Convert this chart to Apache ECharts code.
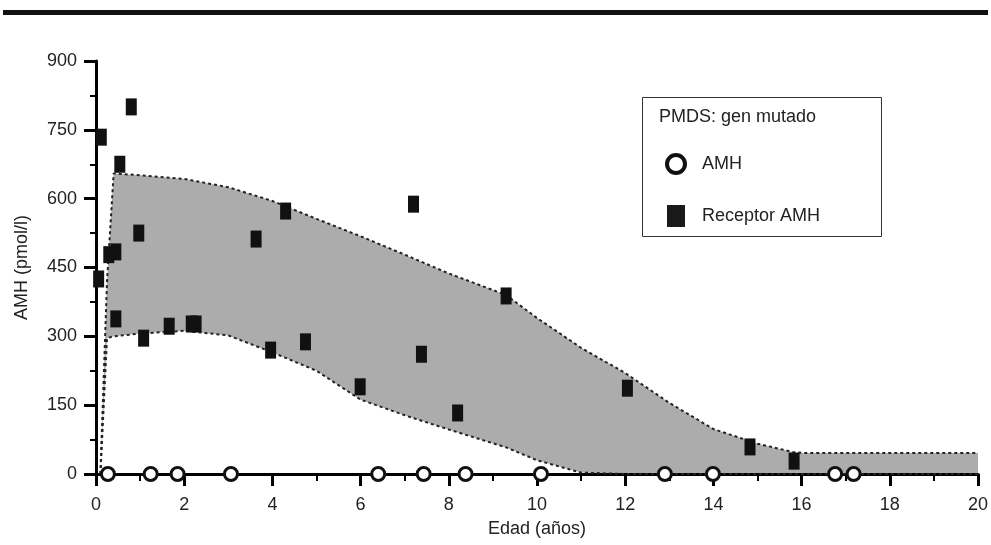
<!DOCTYPE html>
<html lang="es">
<head>
    <meta charset="UTF-8">
    <title>AMH - PMDS</title>
    <script type="text/javascript" src="https://cdn.jsdelivr.net/npm/echarts/dist/echarts.min.js"></script>
    <style>
        body { margin: 0; background: #fff; }
    </style>
</head>
<body>
<div id="main" style="width: 991px; height: 545px"></div>

<script type="text/javascript">
    // receptor AMH (black rectangles)
    var receptorX = [0.12, 0.54, 0.8, 0.29, 0.45, 0.97, 0.06, 0.45, 1.08, 1.66, 2.16, 2.27, 3.63, 3.96, 4.3, 4.75, 5.99, 7.2, 7.38, 8.2, 9.3, 12.05, 14.83, 15.83];
    var receptorY = [734, 675, 800, 478, 484, 525, 425, 338, 296, 322, 327, 327, 512, 270, 573, 288, 190, 588, 261, 133, 388, 187, 59, 28];

    // AMH (open circles, all at 0)
    var amhX = [0.27, 1.24, 1.85, 3.06, 6.4, 7.43, 8.38, 10.09, 12.9, 13.99, 16.76, 17.18];
    var amhY = [0, 0, 0, 0, 0, 0, 0, 0, 0, 0, 0, 0];

    // normal range band (grey)
    var bandX     = [0.1, 0.25, 0.4, 1, 2, 3, 4, 5, 6, 7, 8, 9.3, 10, 11, 12, 13, 14, 15, 15.8, 16, 20];
    var bandUpper = [0, 420, 655, 651, 643, 625, 595, 556, 518, 478, 437, 390, 340, 275, 220, 155, 98, 66, 48, 46, 46];
    var bandLower = [0, 296, 300, 306, 312, 302, 265, 225, 162, 128, 97, 58, 30, 3, 0, 0, 0, 0, 0, 0, 0];

    var xTicks = [0, 20, 2];
    var yTicks = [0, 900, 150];

    var myChart = echarts.init(document.getElementById('main'));

    function pairs(xs, ys) {
        var out = [];
        for (var i = 0; i < xs.length; i++) out.push([xs[i], ys[i]]);
        return out;
    }

    var font = 'Liberation Sans, Arial, sans-serif';

    option = {
        animation: false,
        grid: { left: 96, right: 7, top: 61, bottom: 71 },
        xAxis: [{
            type: 'value',
            min: xTicks[0], max: xTicks[1], interval: xTicks[2],
            z: 2,
            name: 'Edad (años)',
            nameLocation: 'middle',
            nameGap: 46,
            nameTextStyle: { fontSize: 18, color: '#222', fontFamily: font },
            axisLine: { onZero: false, lineStyle: { color: '#000', width: 3 } },
            axisTick: { length: 12, lineStyle: { color: '#000', width: 3 } },
            minorTick: { show: true, splitNumber: 2, length: 7, lineStyle: { color: '#000', width: 2 } },
            axisLabel: { margin: 22, fontSize: 18, color: '#222', fontFamily: font },
            splitLine: { show: false }
        }, {
            type: 'value',
            position: 'top',
            min: xTicks[0], max: xTicks[1],
            axisLine: { lineStyle: { color: '#5a5a5a', width: 3 } },
            axisTick: { show: false },
            axisLabel: { show: false },
            splitLine: { show: false }
        }],
        yAxis: {
            type: 'value',
            min: yTicks[0], max: yTicks[1], interval: yTicks[2],
            z: 2,
            name: 'AMH (pmol/l)',
            nameLocation: 'middle',
            nameGap: 65,
            nameTextStyle: { fontSize: 18, color: '#222', fontFamily: font },
            axisLine: { show: true, lineStyle: { color: '#000', width: 3 } },
            axisTick: { show: true, length: 12, lineStyle: { color: '#000', width: 3 } },
            minorTick: { show: true, splitNumber: 2, length: 6, lineStyle: { color: '#000', width: 2 } },
            axisLabel: { margin: 19, fontSize: 18, color: '#222', fontFamily: font },
            splitLine: { show: false }
        },
        legend: {
            orient: 'vertical',
            left: 660,
            top: 148,
            itemWidth: 18,
            itemHeight: 22,
            itemGap: 30,
            textStyle: { fontSize: 18, color: '#222', fontFamily: font, padding: [0, 0, 0, 12] },
            data: [
                { name: 'AMH', icon: 'circle', itemStyle: { color: '#fff', borderColor: '#111', borderWidth: 4 } },
                { name: 'Receptor AMH', icon: 'rect', itemStyle: { color: '#1a1a1a', borderWidth: 0 } }
            ]
        },
        graphic: [
            { type: 'rect', left: 3, top: 10, shape: { width: 985, height: 5 }, style: { fill: '#111' } },
            { type: 'rect', left: 642, top: 97, z: 10, shape: { width: 239, height: 139 }, style: { fill: 'transparent', stroke: '#333', lineWidth: 1 } },
            { type: 'text', left: 659, top: 108, z: 10, style: { text: 'PMDS: gen mutado', fontSize: 18, fill: '#222', fontFamily: font } }
        ],
        series: [{
            name: 'band',
            type: 'custom',
            z: 1,
            silent: true,
            data: [[bandX[0], bandUpper[0]]],
            renderItem: function (params, api) {
                var pts = [];
                for (var i = 0; i < bandX.length; i++) pts.push(api.coord([bandX[i], bandUpper[i]]));
                for (var j = bandX.length - 1; j >= 0; j--) pts.push(api.coord([bandX[j], bandLower[j]]));
                return { type: 'polygon', shape: { points: pts }, style: { fill: '#acacac' } };
            }
        }, {
            name: 'upper',
            type: 'line',
            z: 2,
            symbol: 'none',
            data: pairs(bandX, bandUpper),
            lineStyle: { color: '#222', width: 2, type: [3, 3] }
        }, {
            name: 'lower',
            type: 'line',
            z: 2,
            symbol: 'none',
            data: pairs(bandX, bandLower),
            lineStyle: { color: '#222', width: 2, type: [3, 3] }
        }, {
            name: 'Receptor AMH',
            type: 'scatter',
            z: 5,
            symbol: 'rect',
            symbolSize: [11, 17],
            itemStyle: { color: '#111', opacity: 1 },
            data: pairs(receptorX, receptorY)
        }, {
            name: 'AMH',
            type: 'scatter',
            z: 6,
            symbol: 'circle',
            symbolSize: 13,
            itemStyle: { color: '#fff', borderColor: '#111', borderWidth: 3, opacity: 1 },
            data: pairs(amhX, amhY)
        }]
    };

    myChart.setOption(option);
</script>
</body>
</html>
